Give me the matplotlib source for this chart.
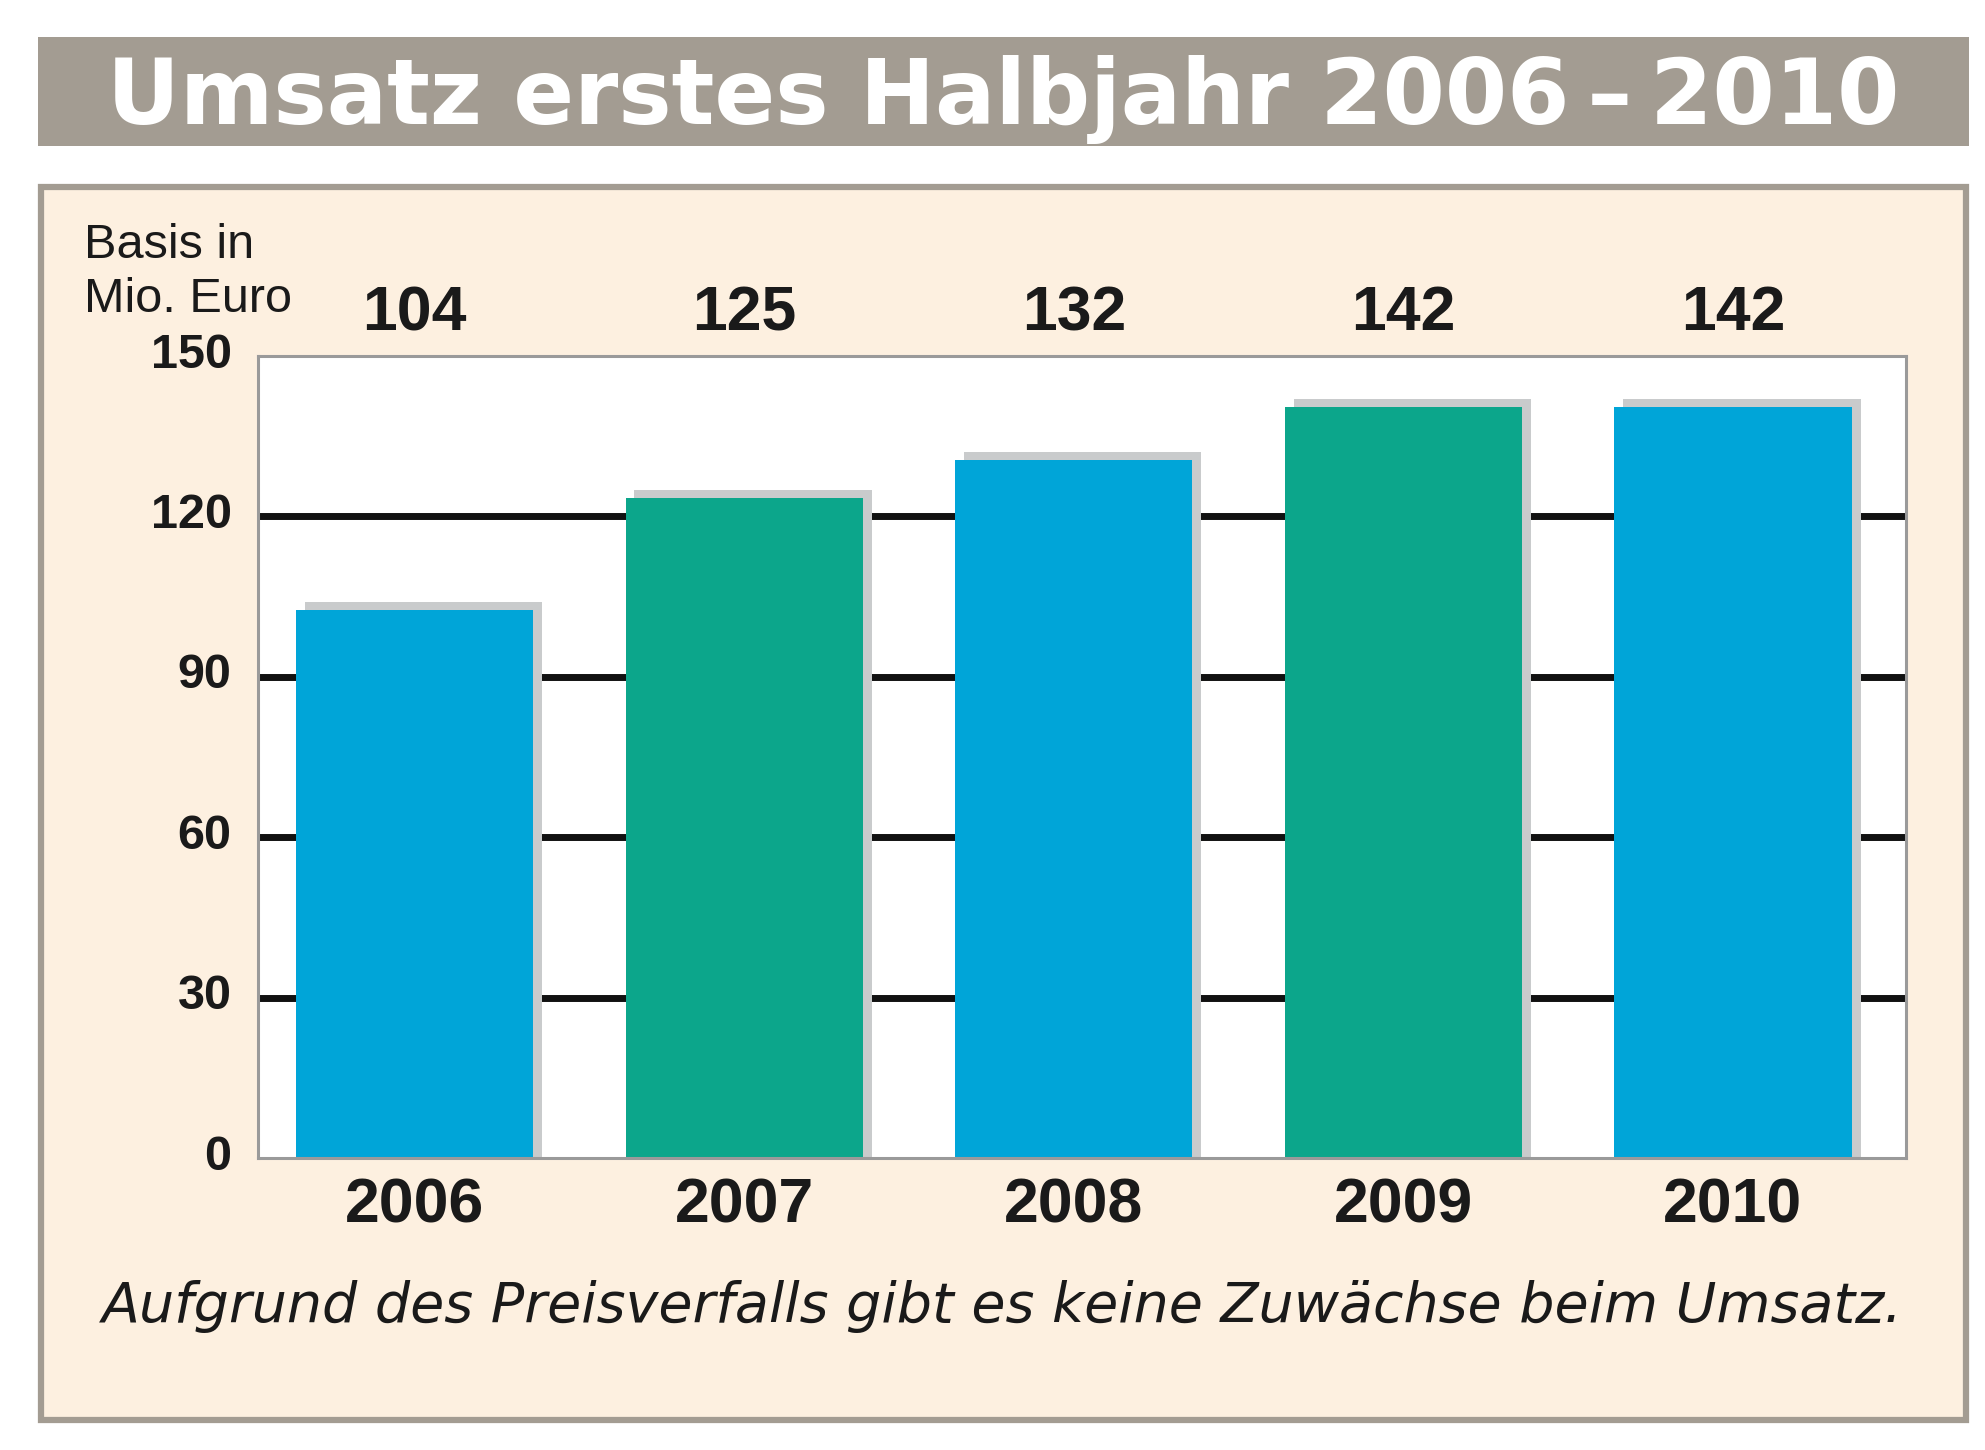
import matplotlib
matplotlib.use("Agg")
import matplotlib.pyplot as plt
import matplotlib.transforms as mtransforms
import numpy as np
from matplotlib.patches import Rectangle

# Data
years = ["2006", "2007", "2008", "2009", "2010"]
umsatz = [104, 125, 132, 142, 142]
y_ticks = [0, 30, 60, 90, 120, 150]
title = "Umsatz erstes Halbjahr 2006\u2009\u2013\u20092010"
unit_lines = ["Basis in", "Mio. Euro"]
caption = "Aufgrund des Preisverfalls gibt es keine Zuwächse beim Umsatz."

# Colours
BLUE = "#00A5D8"
GREEN = "#0CA68B"
SHADOW = "#C9CBCC"
PANEL = "#FDF0E0"
FRAME = "#A39C92"
bar_colors = [BLUE, GREEN, BLUE, GREEN, BLUE]

plt.rcParams["font.family"] = ["Liberation Sans", "DejaVu Sans"]

W, H = 1985, 1450
fig = plt.figure(figsize=(W / 100, H / 100), dpi=100)
fig.patch.set_facecolor("white")

# Background layer in pixel coordinates
bg = fig.add_axes([0, 0, 1, 1], zorder=0)
bg.set_xlim(0, W)
bg.set_ylim(H, 0)
bg.axis("off")

# title band
bg.add_patch(Rectangle((38, 37), 1931, 109, facecolor=FRAME, edgecolor="none"))
bg.text(1003, 124, title, color="white", fontsize=64.5, fontweight="bold",
        family=["DejaVu Sans"], ha="center", va="baseline")

# panel
bg.add_patch(Rectangle((41, 187), 1925, 1233, facecolor=PANEL,
                       edgecolor=FRAME, linewidth=4.5))

for i, line in enumerate(unit_lines):
    bg.text(84, 258 + 54 * i, line, fontsize=35, ha="left", va="baseline",
            color="#1a1a1a")

bg.text(1002, 1322, caption, fontsize=40, style="italic", family=["DejaVu Sans"],
        ha="center", va="baseline", color="#1a1a1a")

# Chart axes
left, top, right, bottom = 258, 356, 1906, 1158
ax = fig.add_axes([left / W, 1 - bottom / H, (right - left) / W, (bottom - top) / H],
                  zorder=1)
ax.set_facecolor("white")

x = np.arange(len(years))
vals = np.array(umsatz, dtype=float)
bar_w = 0.72
ax.bar(x + 0.027, vals, width=bar_w, color=SHADOW, zorder=2, linewidth=0)
ax.bar(x, vals - 1.5, width=bar_w, color=bar_colors, zorder=3, linewidth=0)

for yv in y_ticks[1:-1]:
    ax.axhline(yv, color="#111111", linewidth=5, zorder=1)

ax.set_xlim(-0.475, len(years) - 0.475)
ax.set_ylim(y_ticks[0], y_ticks[-1])

ax.set_yticks(y_ticks)
ax.set_yticklabels([str(t) for t in y_ticks], fontsize=35, fontweight="bold",
                   color="#1a1a1a")
ax.set_xticks(x)
ax.set_xticklabels(years, fontsize=45, fontweight="bold", color="#1a1a1a")
ax.tick_params(axis="y", length=0, pad=19)
ax.tick_params(axis="x", length=0, pad=13)

shift = mtransforms.ScaledTranslation(0, 6 / 100, fig.dpi_scale_trans)
for lab in ax.get_yticklabels():
    lab.set_transform(lab.get_transform() + shift)

for sp in ax.spines.values():
    sp.set_color("#9a9a9a")
    sp.set_linewidth(2.2)
    sp.set_zorder(4)

# value labels above the plot
trans = mtransforms.blended_transform_factory(ax.transData, ax.transAxes)
for xi, v in zip(x, umsatz):
    ax.text(xi, 1.032, str(v), transform=trans, ha="center", va="baseline",
            fontsize=45, fontweight="bold", color="#1a1a1a", clip_on=False)

fig.savefig("out.png", dpi=100)
